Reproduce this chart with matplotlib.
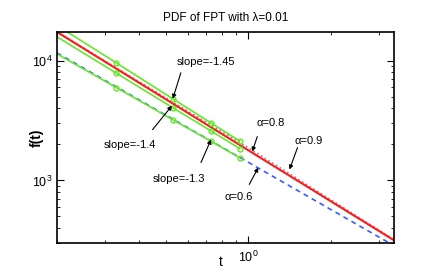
import matplotlib
matplotlib.use('Agg')
import matplotlib.pyplot as plt
from matplotlib.ticker import NullFormatter

plt.rcParams['font.family'] = ['Liberation Sans', 'DejaVu Sans']
plt.rcParams['mathtext.fontset'] = 'custom'
plt.rcParams['mathtext.rm'] = 'Liberation Sans'

# PDF curves
t_pdf = [0.2, 1.0, 3.41]
f_a06 = [11660, 1420, 285]     # alpha=0.6, blue dashed
f_a08 = [17450, 1790, 316]     # alpha=0.8, red solid
f_a09 = [17450, 1880, 320]     # alpha=0.9, grey dotted

# power-law fit lines (green) and their sample points
t_fit = [0.2, 0.33, 0.53, 0.73, 0.93]
f_fit145 = [19800, 9600, 4820, 3030, 2140]
f_fit140 = [15900, 7880, 4060, 2600, 1850]
f_fit130 = [11440, 5970, 3220, 2130, 1550]

# labels: text position, arrow tail, arrow tip (data coords)
labels = ['slope=-1.45', 'slope=-1.4', 'slope=-1.3', 'α=0.8', 'α=0.9', 'α=0.6']
text_pos = [(0.701, 9810), (0.371, 1995), (0.558, 1019), (1.205, 3044), (1.662, 2154), (0.919, 722)]
tail_pos = [(0.567, 7943), (0.447, 2661), (0.672, 1413), (1.079, 2326), (1.514, 1884), (1.0085, 926)]
tip_pos = [(0.530, 4825), (0.526, 4217), (0.731, 2197), (1.034, 1745), (1.415, 1235), (1.088, 1283)]

green = '#66e62e'

fig = plt.figure(figsize=(4.36, 2.73), dpi=100)
ax = fig.add_axes([0.1307, 0.1099, 0.773, 0.7729])

ax.loglog(t_pdf, f_a06, color='#3b5bff', linestyle=(0, (3, 2.5)), linewidth=1.2)
ax.loglog(t_pdf, f_a09, color='#8a8a8a', linestyle=':', linewidth=1.2)
ax.loglog(t_pdf, f_a08, color='#ff1a1a', linestyle='-', linewidth=1.5)

for f in [f_fit145, f_fit140, f_fit130]:
    ax.loglog(t_fit, f, color=green, linewidth=1.2)
    ax.loglog(t_fit[1:], f[1:], linestyle='none', marker='o', markersize=3.5,
              markerfacecolor='none', markeredgecolor=green, markeredgewidth=1.0)

ax.set_xlim(0.2, 3.41)
ax.set_ylim(300, 17450)

ax.xaxis.set_minor_formatter(NullFormatter())
ax.yaxis.set_minor_formatter(NullFormatter())
ax.tick_params(which='both', direction='in', top=True, right=True, labelsize=9)
ax.tick_params(axis='x', which='major', pad=5)
ax.tick_params(which='major', length=5, width=0.8)
ax.tick_params(which='minor', length=2.5, width=0.6)
for s in ax.spines.values():
    s.set_linewidth(1.2)

ax.set_title('PDF of FPT with λ=0.01', fontsize=8.5, pad=8)
ax.set_xlabel('t', fontsize=10)
ax.xaxis.set_label_coords(0.487, -0.055)
ax.set_ylabel('f(t)', fontsize=10, fontweight='bold')
ax.yaxis.set_label_coords(-0.04, 0.5)

for lab, tp, tl, tip in zip(labels, text_pos, tail_pos, tip_pos):
    ax.text(tp[0], tp[1], lab, fontsize=8, ha='center', va='center')
    ax.annotate('', xy=tip, xytext=tl,
                arrowprops=dict(arrowstyle='-|>', color='k', lw=0.8, mutation_scale=6,
                                shrinkA=0, shrinkB=0))

fig.savefig('out.png', dpi=100)
